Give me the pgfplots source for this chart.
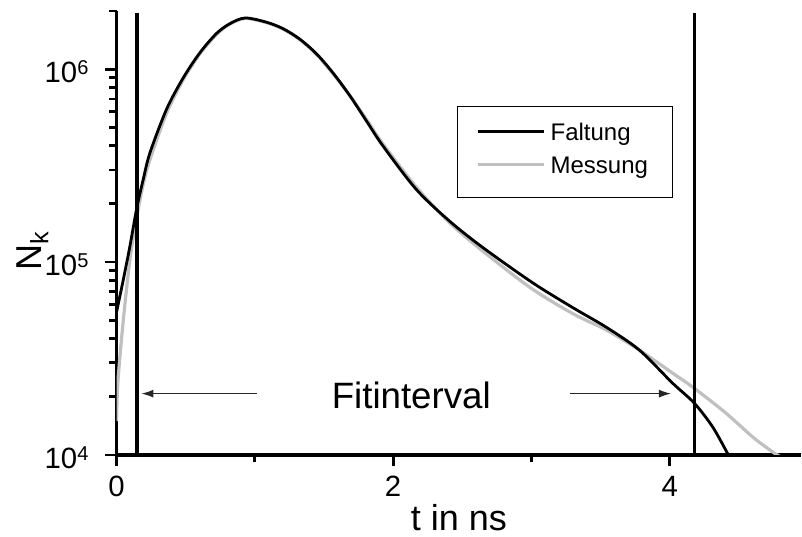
\documentclass[border=0pt]{standalone}
\usepackage{fontspec}
\setmainfont{Liberation Sans}
\usepackage{pgfplots}
\pgfplotsset{compat=1.18}
\usetikzlibrary{arrows.meta}
\definecolor{meas}{RGB}{192,192,192}
\newcommand{\tenpow}[1]{10\raisebox{6.5pt}{\fontsize{15}{15}\selectfont #1}}

\pgfplotstableread{
t N
0.000 5.5e4
0.049 8.1e4
0.097 1.21e5
0.146 1.90e5
0.194 2.70e5
0.242 3.69e5
0.362 6.2e5
0.482 9.0e5
0.603 1.216e6
0.723 1.53e6
0.820 1.72e6
0.930 1.84e6
1.084 1.75e6
1.204 1.62e6
1.325 1.43e6
1.446 1.20e6
1.563 9.6e5
1.686 7.3e5
1.806 5.4e5
1.926 4.0e5
2.167 2.38e5
2.408 1.63e5
2.648 1.19e5
3.010 7.8e4
3.300 5.8e4
3.540 4.6e4
3.780 3.5e4
4.020 2.36e4
4.177 1.86e4
4.310 1.40e4
4.418 1.02e4
4.430 0.98e4
}\faltung

\pgfplotstableread{
t N
0.000 1.5e4
0.010 2.4e4
0.049 5.0e4
0.097 1.03e5
0.146 1.70e5
0.194 2.55e5
0.242 3.40e5
0.362 5.9e5
0.482 8.8e5
0.603 1.20e6
0.723 1.51e6
0.820 1.71e6
0.930 1.83e6
1.084 1.74e6
1.204 1.61e6
1.325 1.42e6
1.446 1.19e6
1.563 9.5e5
1.686 7.3e5
1.806 5.5e5
1.926 4.1e5
2.167 2.45e5
2.408 1.60e5
2.648 1.14e5
3.000 7.3e4
3.300 5.4e4
3.540 4.45e4
3.780 3.5e4
4.020 2.66e4
4.177 2.22e4
4.406 1.65e4
4.600 1.24e4
4.742 1.04e4
4.800 0.98e4
}\messung

\begin{document}
\begin{tikzpicture}
\useasboundingbox (-87.4pt,-60.75pt) rectangle (514.1pt,341.25pt);
\begin{axis}[
  scale only axis, width=513.4pt, height=333pt,
  ymode=log, xmin=0, xmax=4.95, ymin=1e4, ymax=2e6,
  axis x line=bottom, axis y line=left,
  axis line style={-, line width=2.4pt},
  tick align=outside, major tick length=8.5pt, minor tick length=5.5pt,
  every tick/.style={black, line width=2.2pt},
  every major tick/.style={black, line width=2.2pt},
  every minor tick/.style={black, line width=2.2pt},
  xtick={0,2,4}, xticklabels={0,2,4}, minor xtick={1,3},
  ytick={1e4,1e5,1e6}, yticklabels={\tenpow{4},\tenpow{5},\tenpow{6}},
  minor ytick={2e4,3e4,4e4,5e4,6e4,7e4,8e4,9e4,2e5,3e5,4e5,5e5,6e5,7e5,8e5,9e5,2e6},
  ticklabel style={font=\fontsize{22}{22}\selectfont, inner sep=0pt},
  xticklabel style={anchor=north, yshift=-7pt},
  yticklabel style={anchor=east, xshift=-12.4pt, yshift=-2pt},
  xlabel={t in ns},
  xlabel style={at={(axis description cs:0.5,-0.17)}, anchor=base, inner sep=0pt, font=\fontsize{27}{27}\selectfont},
  ylabel={N\textsubscript{k}},
  ylabel style={at={(axis description cs:-0.1226,0.46)}, anchor=center, inner sep=0pt, font=\fontsize{27}{27}\selectfont},
  legend image code/.code={\draw[#1] (0pt,0pt) -- (49.5pt,0pt);},
  legend cell align=left,
  legend style={at={(rel axis cs:0.5252,0.7477)}, anchor=north west, draw=none, fill=none,
    inner sep=0pt, outer sep=0pt, row sep=11.85pt, column sep=4pt,
    font=\fontsize{18}{18}\selectfont,
    nodes={inner sep=0pt, text height=12.9pt, text depth=0pt}},
]
\addplot[meas, line width=2.4pt, smooth, forget plot] table[x=t,y=N] {\messung};
\addplot[black, line width=2.1pt, smooth, forget plot] table[x=t,y=N] {\faltung};
\addplot[black, line width=2.5pt, forget plot] coordinates {(0.148,1e4) (0.148,1.95e6)};
\addplot[black, line width=2.5pt, forget plot] coordinates {(4.177,1e4) (4.177,1.95e6)};
\addlegendimage{black, line width=2.2pt}
\addlegendentry{Faltung}
\addlegendimage{meas, line width=2.4pt}
\addlegendentry{Messung}
\draw[line width=0.75pt] (rel axis cs:0.4975,0.579) rectangle (rel axis cs:0.8115,0.786);
\draw[-{Latex[length=9pt,width=6pt]}, line width=0.9pt, black!85] (axis cs:1.014,2.08e4) -- (axis cs:0.18,2.08e4);
\draw[-{Latex[length=9pt,width=6pt]}, line width=0.9pt, black!85] (axis cs:3.282,2.08e4) -- (axis cs:4.009,2.08e4);
\node[anchor=base, inner sep=0pt, font=\fontsize{27.5}{27.5}\selectfont] at (axis cs:2.131,1.734e4) {Fitinterval};
\end{axis}
\end{tikzpicture}
\end{document}
